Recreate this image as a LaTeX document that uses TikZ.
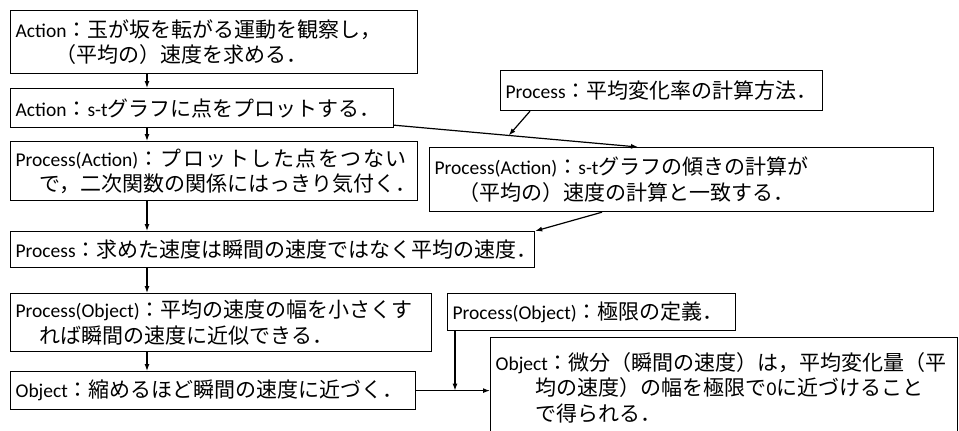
\documentclass[tikz,border=0pt]{standalone}
\usepackage{fontspec}
\setmainfont{Carlito}
\newfontfamily\jp[Scale=1.077]{Noto Sans CJK JP}
\newfontfamily\jpw[Scale=1.077,LetterSpace=7]{Noto Sans CJK JP}
\newcommand{\J}[1]{{\jp #1}}
\newcommand{\JW}[1]{{\jpw #1}}
\usetikzlibrary{arrows.meta,calc}
\tikzset{
  box/.style={draw, line width=1.2pt, anchor=north west, inner xsep=5pt, inner ysep=0pt,
    align=left, font=\fontsize{19.5}{25.5}\selectfont},
  arr/.style={line width=1.2pt, -{Latex[length=7pt,width=5pt]}}
}
\begin{document}
\begin{tikzpicture}[x=1pt,y=-1pt]
\useasboundingbox (0,0) rectangle (959,431);
\fill[white] (0,0) rectangle (959,431);

\node[box, text width=397pt, minimum height=63pt] (b1) at (10,10)
  {Action\J{：玉が坂を転がる運動を観察し，}\\\hspace*{40pt}\J{（平均の）速度を求める．}};
\node[box, text width=373pt, minimum height=39pt] (b2) at (10,88)
  {Action\J{：}s-t\J{グラフに点をプロットする．}};
\node[box, text width=397pt, minimum height=59pt] (b3) at (10,141)
  {Process(Action)\JW{：プロットした点をつない}\\\hspace*{24pt}\J{で，二次関数の関係にはっきり気付く．}};
\node[box, text width=494pt, minimum height=64pt] (b4) at (429,147)
  {Process(Action)\J{：}s-t\J{グラフの傾きの計算が}\\\hspace*{24pt}\J{（平均の）速度の計算と一致する．}};
\node[box, minimum height=40pt] (b5) at (500,70)
  {Process\J{：平均変化率の計算方法．}};
\node[box, text width=514pt, minimum height=36pt] (b6) at (10,231)
  {Process\J{：求めた速度は瞬間の速度ではなく平均の速度．}};
\node[box, text width=411pt, minimum height=58pt] (b7) at (10,293)
  {Process(Object)\J{：平均の速度の幅を小さくす}\\\hspace*{24pt}\J{れば瞬間の速度に近似できる．}};
\node[box, text width=395pt, minimum height=38pt] (b8) at (10,371)
  {Object\J{：縮めるほど瞬間の速度に近づく．}};
\node[box, text width=278pt, minimum height=37pt] (b9) at (447,293)
  {Process(Object)\J{：極限の定義．}};
\node[box, text width=457pt, minimum height=100pt] (b10) at (490,337)
  {Object\J{：微分（瞬間の速度）は，平均変化量（平}\\\hspace*{40pt}\J{均の速度）の幅を極限で}0\J{に近づけること}\\\hspace*{40pt}\J{で得られる．}};

\draw[arr] ([xshift=137pt]b1.south west) -- ([xshift=137pt]b2.north west);
\draw[arr] ([xshift=137pt]b2.south west) -- ([xshift=137pt]b3.north west);
\draw[arr] ([xshift=137pt]b3.south west) -- ([xshift=137pt]b6.north west);
\draw[arr] ([xshift=137pt]b6.south west) -- ([xshift=137pt]b7.north west);
\draw[arr] ([xshift=137pt]b7.south west) -- ([xshift=137pt]b8.north west);

\coordinate (p1) at ([yshift=3pt]b2.south east);
\coordinate (p2) at ([xshift=209pt]b4.north west);
\draw[arr] (p1) -- (p2);
\coordinate (m) at ($(p1)!0.47!(p2)$);
\draw[arr] ([xshift=30pt]b5.south west) -- (m);
\draw[arr] ([xshift=173pt]b4.south west) -- (b6.north east);

\draw[arr] (b8.east) -- (b8.east -| b10.west);
\draw[arr] ([xshift=8pt]b9.south west) -- ([xshift=8pt]b9.south west |- b8.east);
\end{tikzpicture}
\end{document}
